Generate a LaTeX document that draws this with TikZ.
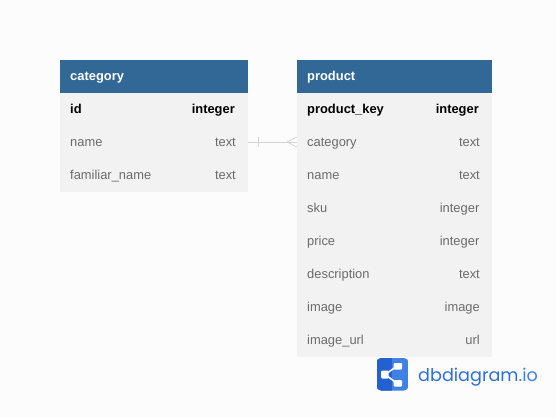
\documentclass[tikz,border=0pt]{standalone}
\usepackage{fontspec}
\setmainfont{Liberation Sans}
\newfontfamily\logofont{Poppins}
\definecolor{hdr}{HTML}{316896}
\definecolor{bodyc}{HTML}{F2F2F2}
\definecolor{bg}{HTML}{FCFCFC}
\definecolor{muted}{HTML}{6B6B6B}
\definecolor{linkc}{HTML}{D4D4D4}
\definecolor{logod}{HTML}{2360D0}
\definecolor{logol}{HTML}{3F82E4}
\definecolor{logot}{HTML}{2E6FD8}
\tikzset{
  x=1pt,y=-1pt,
  headbox/.style={fill=hdr,draw=none,anchor=north west,inner sep=0pt,minimum height=33pt},
  bodybox/.style={fill=bodyc,draw=none,anchor=north west,inner sep=0pt},
  headtxt/.style={anchor=base west,inner sep=0pt,text=white,font=\fontsize{12.9}{14}\selectfont\bfseries},
  keyl/.style={anchor=base west,inner sep=0pt,text=black,font=\fontsize{12.9}{14}\selectfont\bfseries},
  keyr/.style={anchor=base east,inner sep=0pt,text=black,font=\fontsize{12.9}{14}\selectfont\bfseries},
  rowl/.style={anchor=base west,inner sep=0pt,text=muted,font=\fontsize{12.9}{14}\selectfont},
  rowr/.style={anchor=base east,inner sep=0pt,text=muted,font=\fontsize{12.9}{14}\selectfont},
  relline/.style={draw=linkc,line width=0.8pt},
}
\begin{document}
\begin{tikzpicture}
\useasboundingbox (0,0) rectangle (556,417);
\fill[bg] (0,0) rectangle (556,417);
% category
\node[bodybox,minimum width=188pt,minimum height=99pt] (catbody) at (60,93) {};
\node[headbox,minimum width=188pt] (cathead) at (60,60) {};
\node[headtxt] (cattitle) at (70,80.5) {category};
\node[keyl] (c1l) at (70,113.5) {id};
\node[keyr] (c1r) at (235,113.5) {integer};
\node[rowl] (c2l) at (70,146.5) {name};
\node[rowr] (c2r) at (236,146.5) {text};
\node[rowl] (c3l) at (70,179.5) {familiar\_name};
\node[rowr] (c3r) at (236,179.5) {text};
% product
\node[bodybox,minimum width=195pt,minimum height=264pt] (prodbody) at (297,93) {};
\node[headbox,minimum width=195pt] (prodhead) at (297,60) {};
\node[headtxt] (prodtitle) at (307,80.5) {product};
\node[keyl] (p1l) at (307,113.5) {product\_key};
\node[keyr] (p1r) at (479,113.5) {integer};
\node[rowl] (p2l) at (307,146.5) {category};
\node[rowr] (p2r) at (480,146.5) {text};
\node[rowl] (p3l) at (307,179.5) {name};
\node[rowr] (p3r) at (480,179.5) {text};
\node[rowl] (p4l) at (307,212.5) {sku};
\node[rowr] (p4r) at (479.5,212.5) {integer};
\node[rowl] (p5l) at (307,245.5) {price};
\node[rowr] (p5r) at (479.5,245.5) {integer};
\node[rowl] (p6l) at (307,278.5) {description};
\node[rowr] (p6r) at (480,278.5) {text};
\node[rowl] (p7l) at (307,311.5) {image};
\node[rowr] (p7r) at (480,311.5) {image};
\node[rowl] (p8l) at (307,344.5) {image\_url};
\node[rowr] (p8r) at (480,344.5) {url};
% relation
\coordinate (relA) at (248,142);
\coordinate (relB) at (297,142);
\draw[relline] (relA) -- (relB);
\draw[relline] ([xshift=10pt]relA) ++(0,-5) -- ++(0,10);
\draw[relline] ([xshift=-10pt]relB) -- ++(10,-5);
\draw[relline] ([xshift=-10pt]relB) -- ++(10,5);
% logo
\begin{scope}
\clip[rounded corners=4.5pt] (376.5,358) rectangle (408.5,390.5);
\fill[logol] (376.5,358) rectangle (408.5,390.5);
\fill[logod] (376.5,358) rectangle (392,390.5);
\end{scope}
\draw[white,line width=1.6pt] (385,374.5) -- (398,365.5) (385,374.5) -- (398,384);
\fill[white,rounded corners=1pt] (381,370.5) rectangle (388.5,378.5);
\fill[white,rounded corners=1pt] (393.5,363) rectangle (402,369.5);
\fill[white,rounded corners=1pt] (393.5,380) rectangle (402,386.5);
\node[anchor=base west,inner sep=0pt,text=logot,font=\logofont\fontsize{17.6}{22}\selectfont] (logotxt) at (418,381.5) {dbdiagram\textcolor{logol}{.io}};
\end{tikzpicture}
\end{document}
